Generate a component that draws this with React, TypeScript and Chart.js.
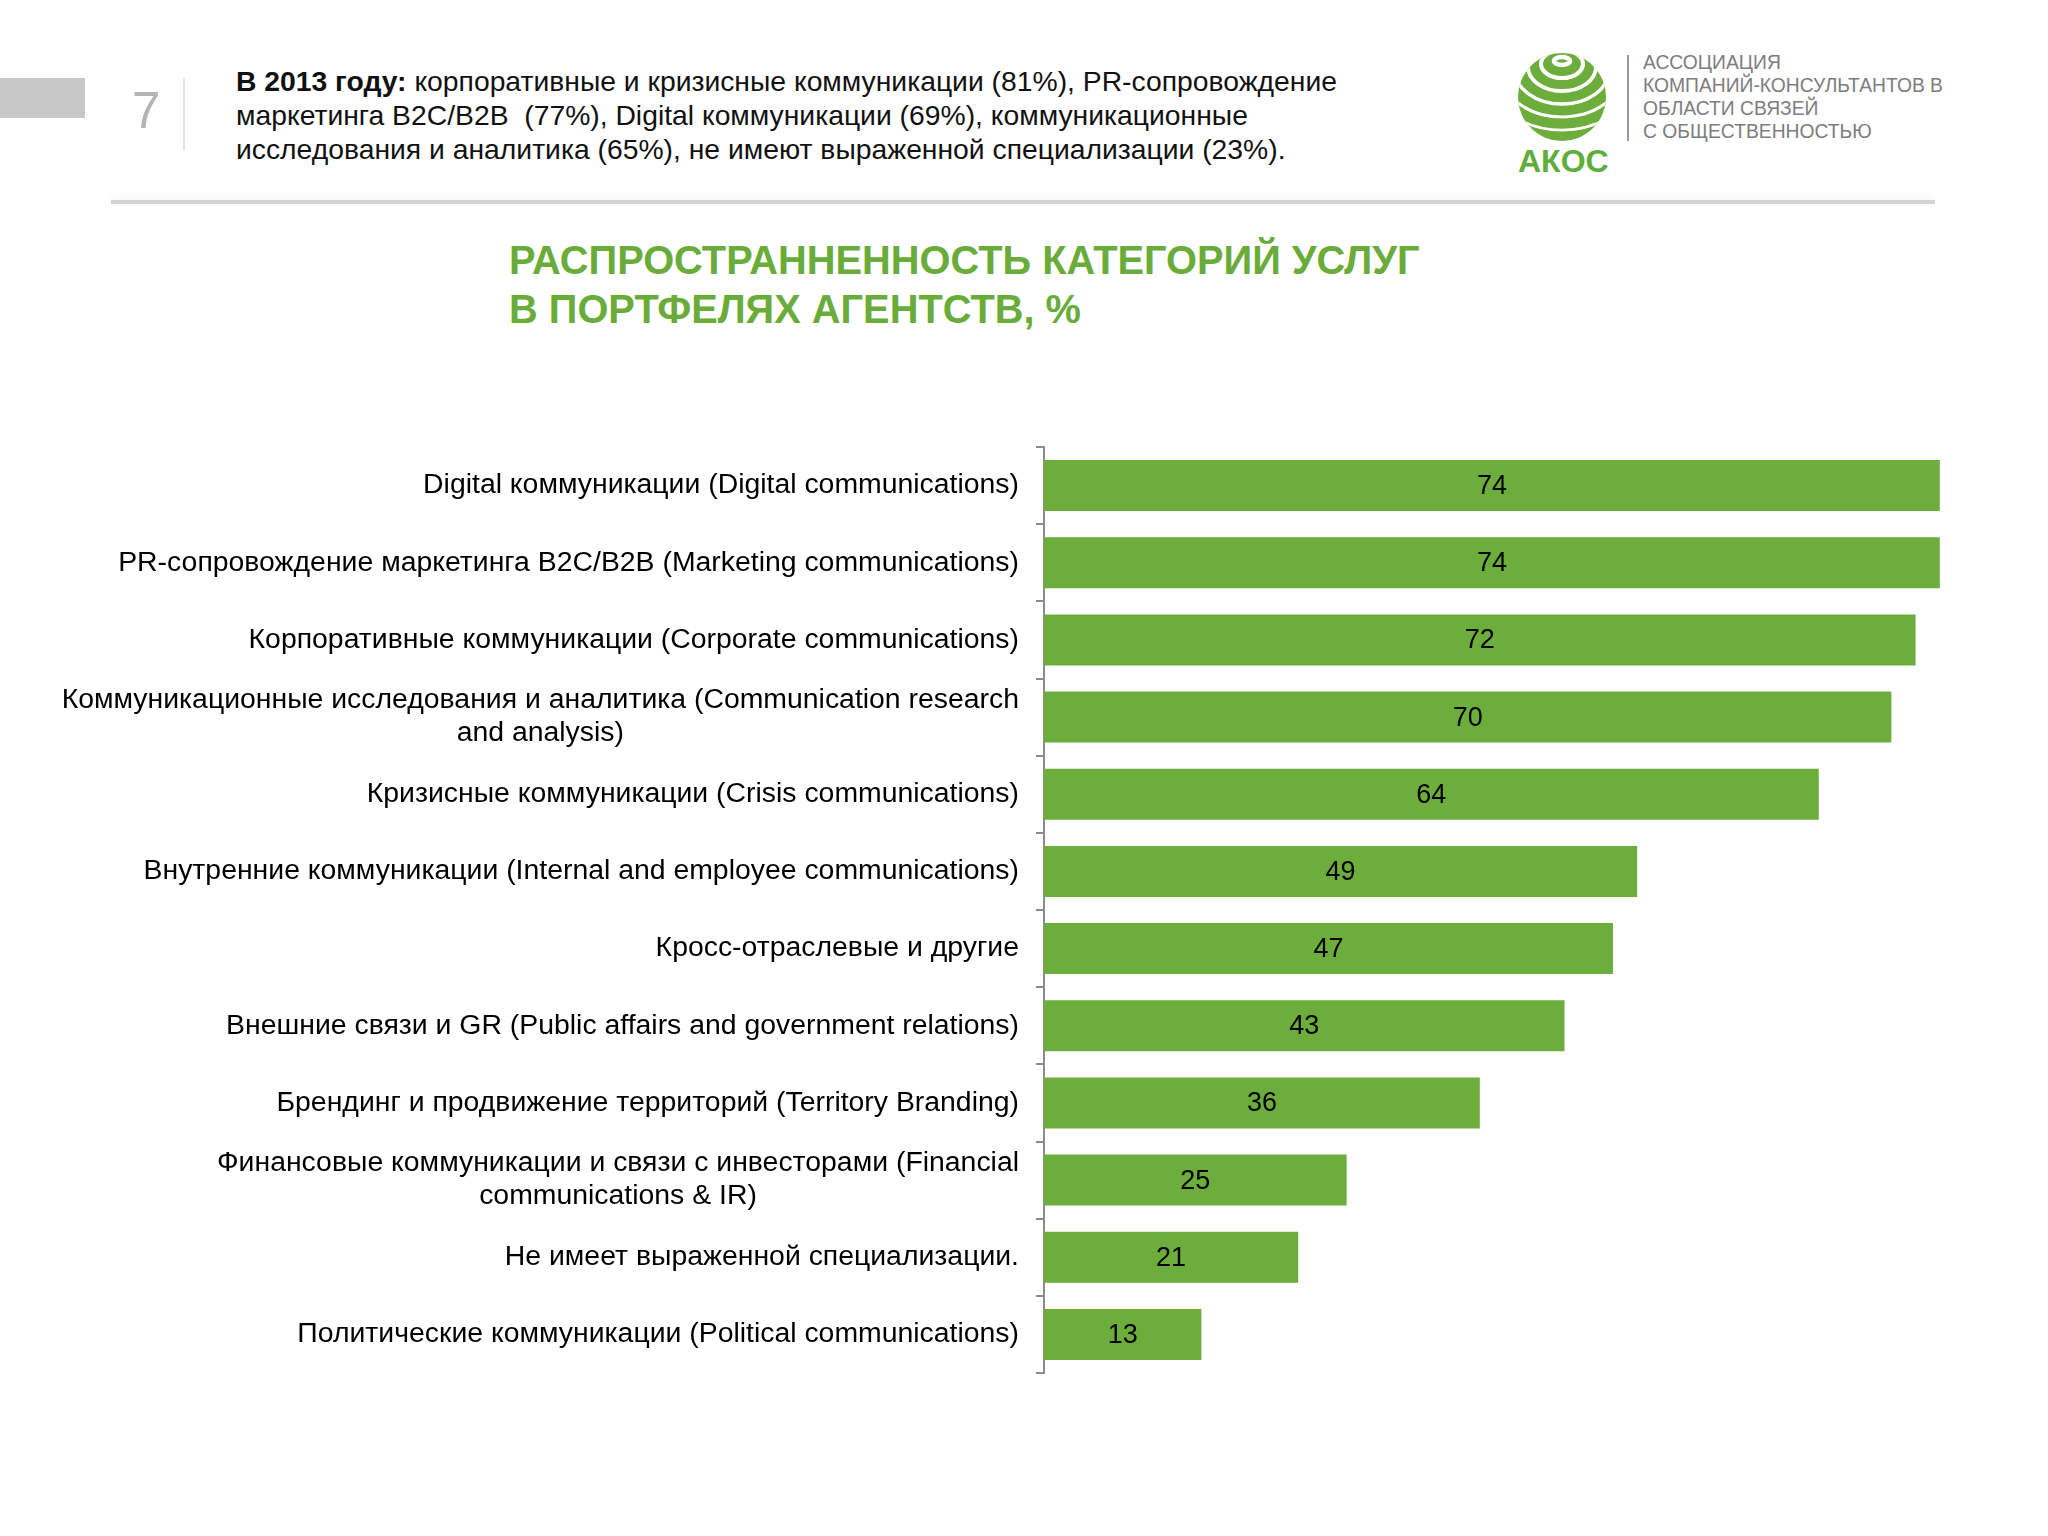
import React, { useEffect, useRef } from "react";
import { Chart, registerables } from "chart.js";

Chart.register(...registerables);

const categories: (string | string[])[] = [
  "Digital коммуникации (Digital communications)",
  "PR-сопровождение маркетинга B2C/B2B (Marketing communications)",
  "Корпоративные коммуникации (Corporate communications)",
  ["Коммуникационные исследования и аналитика (Communication research", "and analysis)"],
  "Кризисные коммуникации (Crisis communications)",
  "Внутренние коммуникации (Internal and employee communications)",
  "Кросс-отраслевые и другие",
  "Внешние связи и GR (Public affairs and government relations)",
  "Брендинг и продвижение территорий (Territory Branding)",
  ["Финансовые коммуникации и связи с инвесторами (Financial", "communications & IR)"],
  "Не имеет выраженной специализации.",
  "Политические коммуникации (Political communications)",
];

const values: number[] = [74, 74, 72, 70, 64, 49, 47, 43, 36, 25, 21, 13];

const xMin = 0;
const xMax = 76;

const GREEN = "#6cad3c";
const FONT = '"Liberation Sans", Arial, sans-serif';

const labelPlugin = {
  id: "customLabels",
  afterDraw(chart: any) {
    const ctx = chart.ctx as CanvasRenderingContext2D;
    const ys = chart.scales.y;
    ctx.save();
    ctx.font = `28.4px ${FONT}`;
    ctx.fillStyle = "#000";
    ctx.textBaseline = "middle";
    ctx.textAlign = "center";
    const LH = 33;
    categories.forEach((lab, i) => {
      const lines = Array.isArray(lab) ? lab : [lab];
      const w = Math.max(...lines.map((l) => ctx.measureText(l).width));
      const cx = chart.chartArea.left - 25 - w / 2;
      const yc = ys.getPixelForValue(i);
      lines.forEach((l, j) => {
        ctx.fillText(l, cx, yc + (j - (lines.length - 1) / 2) * LH);
      });
    });
    ctx.font = `27px ${FONT}`;
    const meta = chart.getDatasetMeta(0);
    meta.data.forEach((bar: any, i: number) => {
      const p = bar.getProps(["x", "base", "y"], true);
      ctx.fillText(String(values[i]), (p.x + p.base) / 2, p.y + 1);
    });
    ctx.restore();
  },
};

function BarChart() {
  const ref = useRef<HTMLCanvasElement | null>(null);
  useEffect(() => {
    if (!ref.current) return;
    const chart = new Chart(ref.current, {
      type: "bar",
      data: {
        labels: categories as any,
        datasets: [
          {
            data: values,
            backgroundColor: GREEN,
            borderWidth: 0,
            barPercentage: 0.66,
            categoryPercentage: 1,
          },
        ],
      },
      options: {
        indexAxis: "y",
        responsive: false,
        animation: false,
        layout: { padding: { top: 47, bottom: 27, left: 0, right: 84 } },
        plugins: { legend: { display: false }, tooltip: { enabled: false } },
        scales: {
          x: { display: false, min: xMin, max: xMax },
          y: {
            afterFit: (s: any) => {
              s.width = 1044;
            },
            ticks: { display: false },
            grid: {
              drawOnChartArea: false,
              drawTicks: true,
              tickLength: 8,
              color: "#8c8c8c",
              lineWidth: 2,
              offset: true,
            },
            border: { color: "#8c8c8c", width: 2 },
          },
        },
      },
      plugins: [labelPlugin],
    });
    return () => chart.destroy();
  }, []);
  return <canvas ref={ref} width={2048} height={1000} style={{ display: "block" }} />;
}

function Globe() {
  const cx = 1562;
  const cy = 97;
  const r = 44;
  const rings = [0, 1, 2, 3, 4, 5, 6, 7];
  return (
    <svg
      width={2048}
      height={220}
      style={{ position: "absolute", left: 0, top: 0 }}
    >
      <defs>
        <clipPath id="gclip">
          <circle cx={cx} cy={cy} r={r} />
        </clipPath>
      </defs>
      <circle cx={cx} cy={cy} r={r} fill={GREEN} />
      <g clipPath="url(#gclip)">
        {rings.map((k) => (
          <ellipse
            key={k}
            cx={cx}
            cy={cy - r + 8 + k * 3}
            rx={8 + k * 13}
            ry={4 + k * 10}
            fill="none"
            stroke="#fff"
            strokeWidth={4.5 - k * 0.35}
          />
        ))}
      </g>
    </svg>
  );
}

export default function App() {
  return (
    <div
      style={{
        position: "absolute",
        left: 0,
        top: 0,
        width: 2048,
        height: 1536,
        overflow: "hidden",
        background: "#fff",
        fontFamily: FONT,
      }}
    >
      <div style={{ position: "absolute", left: 0, top: 78, width: 85, height: 40, background: "#c8c8c8" }} />
      <div
        style={{
          position: "absolute",
          left: 132,
          top: 81,
          fontSize: 51,
          lineHeight: "60px",
          color: "#b5b5b5",
        }}
      >
        7
      </div>
      <div style={{ position: "absolute", left: 183, top: 78, width: 2, height: 72, background: "#e2e2e2" }} />
      <div
        style={{
          position: "absolute",
          left: 236,
          top: 64,
          fontSize: 28.3,
          lineHeight: "34px",
          color: "#111",
          whiteSpace: "pre",
        }}
      >
        <b>В 2013 году:</b> корпоративные и кризисные коммуникации (81%), PR-сопровождение
        {"\n"}маркетинга B2C/B2B  (77%), Digital коммуникации (69%), коммуникационные
        {"\n"}исследования и аналитика (65%), не имеют выраженной специализации (23%).
      </div>
      <Globe />
      <div
        style={{
          position: "absolute",
          left: 1518,
          top: 141,
          fontSize: 32,
          lineHeight: "40px",
          fontWeight: "bold",
          color: "#5fae3c",
        }}
      >
        АКОС
      </div>
      <div style={{ position: "absolute", left: 1627, top: 55, width: 2, height: 86, background: "#9a9a9a" }} />
      <div
        style={{
          position: "absolute",
          left: 1643,
          top: 51,
          fontSize: 19.3,
          lineHeight: "23px",
          color: "#7d7d7d",
          whiteSpace: "pre",
        }}
      >
        {"АССОЦИАЦИЯ\nКОМПАНИЙ-КОНСУЛЬТАНТОВ В\nОБЛАСТИ СВЯЗЕЙ\nС ОБЩЕСТВЕННОСТЬЮ"}
      </div>
      <div
        style={{
          position: "absolute",
          left: 111,
          top: 200,
          width: 1824,
          height: 4,
          background: "#d4d4d4",
          boxShadow: "0 -3px 6px rgba(0,0,0,0.05)",
        }}
      />
      <div
        style={{
          position: "absolute",
          left: 509,
          top: 236,
          fontSize: 39.8,
          lineHeight: "49px",
          fontWeight: "bold",
          color: "#6aac3a",
          whiteSpace: "pre",
        }}
      >
        {"РАСПРОСТРАННЕННОСТЬ КАТЕГОРИЙ УСЛУГ\nВ ПОРТФЕЛЯХ АГЕНТСТВ, %"}
      </div>
      <div style={{ position: "absolute", left: 0, top: 400 }}>
        <BarChart />
      </div>
    </div>
  );
}
